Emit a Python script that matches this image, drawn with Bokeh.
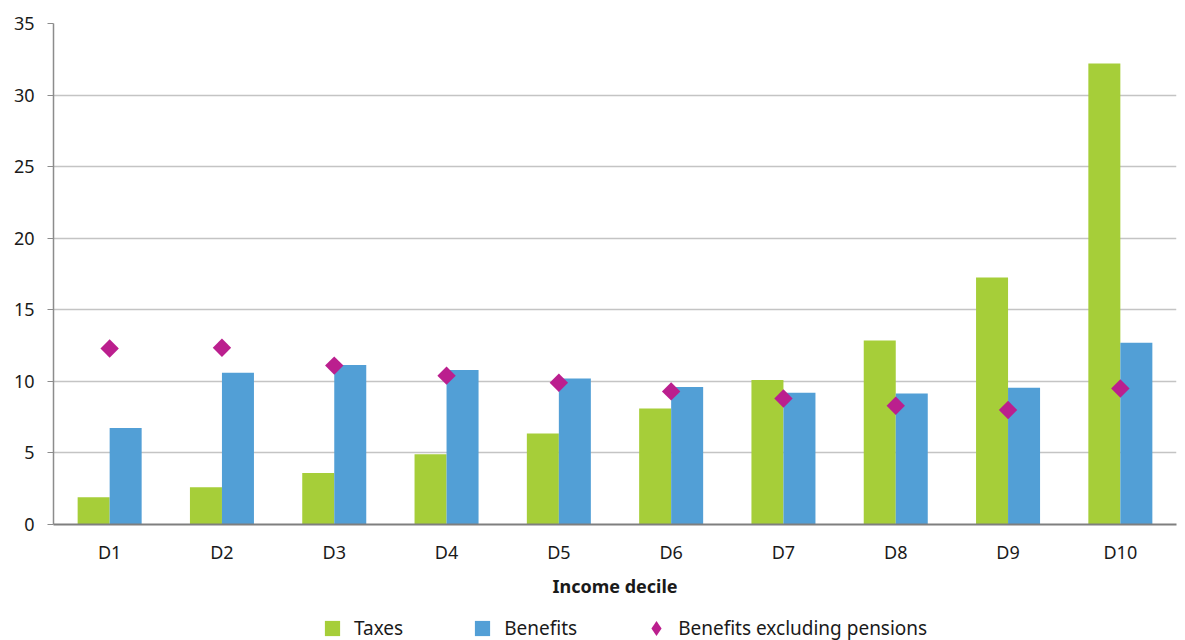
import math
from bokeh.plotting import figure
from bokeh.layouts import column
from bokeh.models import ColumnDataSource, FactorRange, Range1d, Legend, LegendItem, SingleIntervalTicker
from bokeh.transform import dodge
from bokeh.embed import file_html
from bokeh.resources import INLINE

deciles = ["D1", "D2", "D3", "D4", "D5", "D6", "D7", "D8", "D9", "D10"]
taxes = [1.9, 2.6, 3.6, 4.9, 6.35, 8.1, 10.1, 12.85, 17.25, 32.2]
benefits = [6.75, 10.6, 11.15, 10.8, 10.2, 9.6, 9.2, 9.15, 9.55, 12.7]
benefits_ex_pensions = [12.3, 12.35, 11.1, 10.4, 9.9, 9.3, 8.8, 8.3, 8.0, 9.5]
series_names = ["Taxes", "Benefits", "Benefits excluding pensions"]

src = ColumnDataSource(dict(d=deciles, t=taxes, b=benefits, e=benefits_ex_pensions))

FONT = "Noto Sans"
TXT = "#1a1a1a"
GREEN, BLUE, MAGENTA = "#a6ce39", "#529fd6", "#bb1f8e"

p = figure(
    x_range=FactorRange(*deciles, range_padding=0),
    y_range=Range1d(0, 35),
    width=1184, height=600,
    min_border_left=53, min_border_right=8, min_border_top=23, min_border_bottom=75,
    output_backend="svg", toolbar_location=None,
)
p.outline_line_color = None
p.background_fill_color = "white"

bw = 0.285
p.vbar(x=dodge("d", -bw / 2, range=p.x_range), top="t", width=bw, source=src,
       fill_color=GREEN, line_color=None)
p.vbar(x=dodge("d", bw / 2, range=p.x_range), top="b", width=bw, source=src,
       fill_color=BLUE, line_color=None)
p.scatter(x="d", y="e", source=src, marker="square", angle=math.pi / 4, size=13,
          fill_color=MAGENTA, line_color=None)

# axes
p.yaxis.ticker = SingleIntervalTicker(interval=5)
p.yaxis.axis_line_color = "#8c8c8c"
p.yaxis.axis_line_width = 1.5
p.yaxis.major_tick_line_color = "#8c8c8c"
p.yaxis.major_tick_out = 6
p.yaxis.major_tick_in = 0
p.yaxis.minor_tick_line_color = None
p.yaxis.major_label_standoff = 13
p.yaxis.major_label_text_font = FONT
p.yaxis.major_label_text_font_size = "18px"
p.yaxis.major_label_text_color = TXT

p.xaxis.axis_line_color = "#7f7f7f"
p.xaxis.axis_line_width = 2
p.xaxis.major_tick_line_color = None
p.xaxis.major_tick_out = 0
p.xaxis.major_tick_in = 0
p.xaxis.major_label_standoff = 15
p.xaxis.major_label_text_font = FONT
p.xaxis.major_label_text_font_size = "18px"
p.xaxis.major_label_text_color = TXT
p.xaxis.axis_label = "Income decile"
p.xaxis.axis_label_text_font = FONT
p.xaxis.axis_label_text_font_style = "bold"
p.xaxis.axis_label_text_font_size = "18px"
p.xaxis.axis_label_text_color = TXT
p.xaxis.axis_label_standoff = 7

p.xgrid.grid_line_color = None
p.ygrid.grid_line_color = "#c4c4c4"
p.ygrid.grid_line_width = 1.5

# legend strip below the chart (key renderers sit outside the strip's visible range)
lg = figure(
    width=1184, height=40, x_range=Range1d(0, 1), y_range=Range1d(0, 1),
    x_axis_type=None, y_axis_type=None,
    min_border_left=0, min_border_right=0, min_border_top=0, min_border_bottom=0,
    output_backend="svg", toolbar_location=None,
)
lg.outline_line_color = None
lg.xgrid.grid_line_color = None
lg.ygrid.grid_line_color = None
hidden = dict(x=[5], y=[5])
k_t = lg.scatter(x="x", y="y", source=ColumnDataSource(hidden), marker="square", size=15,
                 fill_color=GREEN, line_color=None)
k_b = lg.scatter(x="x", y="y", source=ColumnDataSource(hidden), marker="square", size=15,
                 fill_color=BLUE, line_color=None)
k_e = lg.scatter(x="x", y="y", source=ColumnDataSource(hidden), marker="diamond", size=15,
                 fill_color=MAGENTA, line_color=None)

legend = Legend(
    items=[LegendItem(label=series_names[0], renderers=[k_t]),
           LegendItem(label=series_names[1], renderers=[k_b]),
           LegendItem(label=series_names[2], renderers=[k_e])],
    orientation="horizontal", location=(260, -7),
    glyph_width=38, glyph_height=38, label_standoff=3, spacing=60,
    label_text_font=FONT, label_text_font_size="19px", label_text_color=TXT,
    border_line_color=None, background_fill_alpha=0,
    padding=0, margin=0,
)
lg.add_layout(legend, "center")

open("out.html", "w").write(file_html(column(p, lg), INLINE))
